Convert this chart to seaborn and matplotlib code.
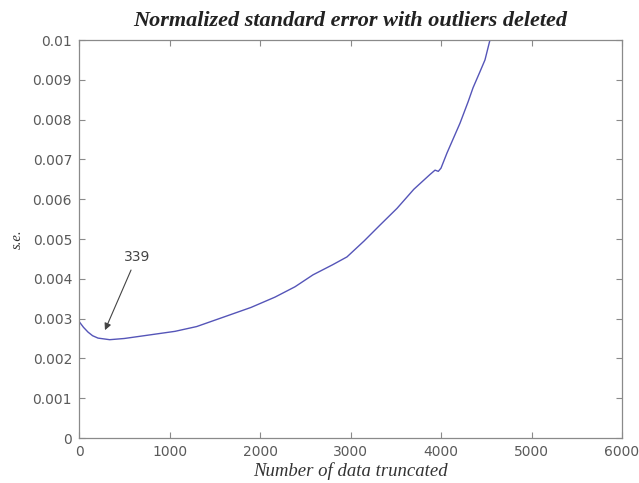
import matplotlib
matplotlib.use("Agg")
import matplotlib.pyplot as plt
import seaborn as sns
import pandas as pd

# data
n_truncated = [0, 50, 100, 150, 210, 339, 500, 750, 1061, 1300, 1613, 1900,
               2166, 2387, 2586, 2800, 2961, 3150, 3326, 3514, 3700, 3878,
               3934, 3970, 4000, 4066, 4210, 4300, 4354, 4430, 4486, 4541, 4600]
std_err = [0.00293, 0.00278, 0.00266, 0.00257, 0.00251, 0.00247, 0.00250,
           0.00258, 0.00268, 0.00280, 0.00305, 0.00328, 0.00354, 0.00380,
           0.00410, 0.00435, 0.00455, 0.00495, 0.00535, 0.00577, 0.00625,
           0.00662, 0.00673, 0.00670, 0.00678, 0.00716, 0.00791, 0.00845,
           0.00880, 0.00920, 0.00950, 0.01000, 0.01040]

xticks = [0, 1000, 2000, 3000, 4000, 5000, 6000]
xtick_labels = ['0', '1000', '2000', '3000', '4000', '5000', '6000']
yticks = [0, 0.001, 0.002, 0.003, 0.004, 0.005, 0.006, 0.007, 0.008, 0.009, 0.01]
ytick_labels = ['0', '0.001', '0.002', '0.003', '0.004', '0.005', '0.006',
                '0.007', '0.008', '0.009', '0.01']

annot_label = '339'
annot_head = (287, 0.00271)
annot_tail = (575, 0.00422)
annot_text_pos = (641, 0.00436)

title = 'Normalized standard error with outliers deleted'
xlabel = 'Number of data truncated'
ylabel = 's.e.'

df = pd.DataFrame({'n': n_truncated, 'se': std_err})

sns.set_style('white')
plt.rcParams['font.family'] = ['DejaVu Sans']

fig = plt.figure(figsize=(6.39, 4.83), dpi=100)
ax = fig.add_axes([79/639, 1 - 438/483, (622-79)/639, (438-40)/483])

sns.lineplot(data=df, x='n', y='se', ax=ax, sort=False, estimator=None,
             color='#5555b8', linewidth=1.0)

ax.set_xlim(0, 6000)
ax.set_ylim(0, 0.01)
ax.set_xticks(xticks)
ax.set_xticklabels(xtick_labels)
ax.set_yticks(yticks)
ax.set_yticklabels(ytick_labels)

for s in ax.spines.values():
    s.set_color('#8a8a8a')
    s.set_linewidth(0.9)
ax.tick_params(direction='in', length=4, width=0.8, color='#8a8a8a',
               labelsize=10, labelcolor='#5a5a5a', top=True, right=True,
               bottom=True, left=True)
ax.tick_params(axis='x', pad=5)
ax.tick_params(axis='y', pad=5)

serif = ['Liberation Serif', 'DejaVu Serif']
ax.set_title(title, family=serif, style='italic', weight='bold', fontsize=16,
             color='#222222', pad=10)
ax.set_xlabel(xlabel, family=serif, style='italic', fontsize=13.5,
              color='#333333', labelpad=2)
ax.set_ylabel(ylabel, family=serif, style='italic', fontsize=10.5,
              color='#333333', labelpad=6)

ax.annotate('', xy=annot_head, xytext=annot_tail,
            arrowprops=dict(arrowstyle='-|>', color='#444444', lw=0.8,
                            mutation_scale=10, shrinkA=0, shrinkB=0))
ax.text(annot_text_pos[0], annot_text_pos[1], annot_label, ha='center',
        va='bottom', fontsize=10, color='#444444')

fig.savefig('out.png', dpi=100)
